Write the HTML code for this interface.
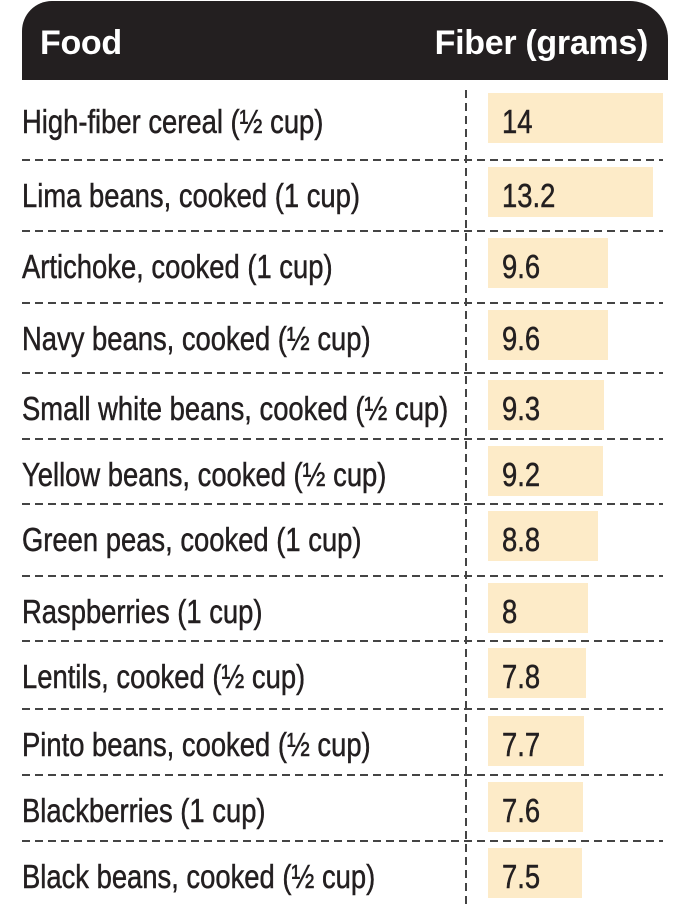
<!DOCTYPE html>
<html><head><meta charset="utf-8"><style>
body{margin:0;width:688px;height:906px;background:#fff;position:relative;overflow:hidden;font-family:"Liberation Sans",sans-serif;color:#231f20}
.hdr{position:absolute;left:22px;top:1px;width:646px;height:79px;background:#231f20;border-radius:30px 38px 0 0}
.hdr span{position:absolute;top:23px;color:#fff;font-weight:bold;font-size:34px;letter-spacing:-0.3px}
.sep{position:absolute;left:22px;width:641px;height:2px;background:repeating-linear-gradient(90deg,#444 0 8px,transparent 8px 13px)}
.vl{position:absolute;left:465px;top:90px;height:816px;width:2px;background:repeating-linear-gradient(180deg,#444 0 8px,transparent 8px 13px)}
.bar{position:absolute;left:488px;height:50px;background:#fdebc8}
.lab,.num{position:absolute;font-size:33px;line-height:50px;white-space:nowrap;transform-origin:0 50%;transform:scaleX(0.83);-webkit-text-stroke:0.5px #231f20}
.lab{left:22px}
.num{left:502px}
</style></head><body>
<div class="hdr"><span style="left:18px">Food</span><span style="right:20px">Fiber (grams)</span></div>
<div class="vl"></div>
<div id="c"></div>
<script>
var b=[85,159,230,302,372,438,503,575,640,708,774,840,906];
var d=[["High-fiber cereal (½ cup)",14],["Lima beans, cooked (1 cup)",13.2],["Artichoke, cooked (1 cup)",9.6],["Navy beans, cooked (½ cup)",9.6],["Small white beans, cooked (½ cup)",9.3],["Yellow beans, cooked (½ cup)",9.2],["Green peas, cooked (1 cup)",8.8],["Raspberries (1 cup)",8],["Lentils, cooked (½ cup)",7.8],["Pinto beans, cooked (½ cup)",7.7],["Blackberries (1 cup)",7.6],["Black beans, cooked (½ cup)",7.5]];
var h="";
for(var i=0;i<12;i++){var t=b[i]+8;
if(i>0)h+='<div class="sep" style="top:'+b[i]+'px"></div>';
h+='<div class="bar" style="top:'+t+'px;width:'+Math.round(d[i][1]*12.5)+'px"></div>';
h+='<div class="lab" style="top:'+(t+4)+'px">'+d[i][0]+'</div>';
h+='<div class="num" style="top:'+(t+4)+'px">'+d[i][1]+'</div>';}
document.getElementById("c").innerHTML=h;
</script>
</body></html>
